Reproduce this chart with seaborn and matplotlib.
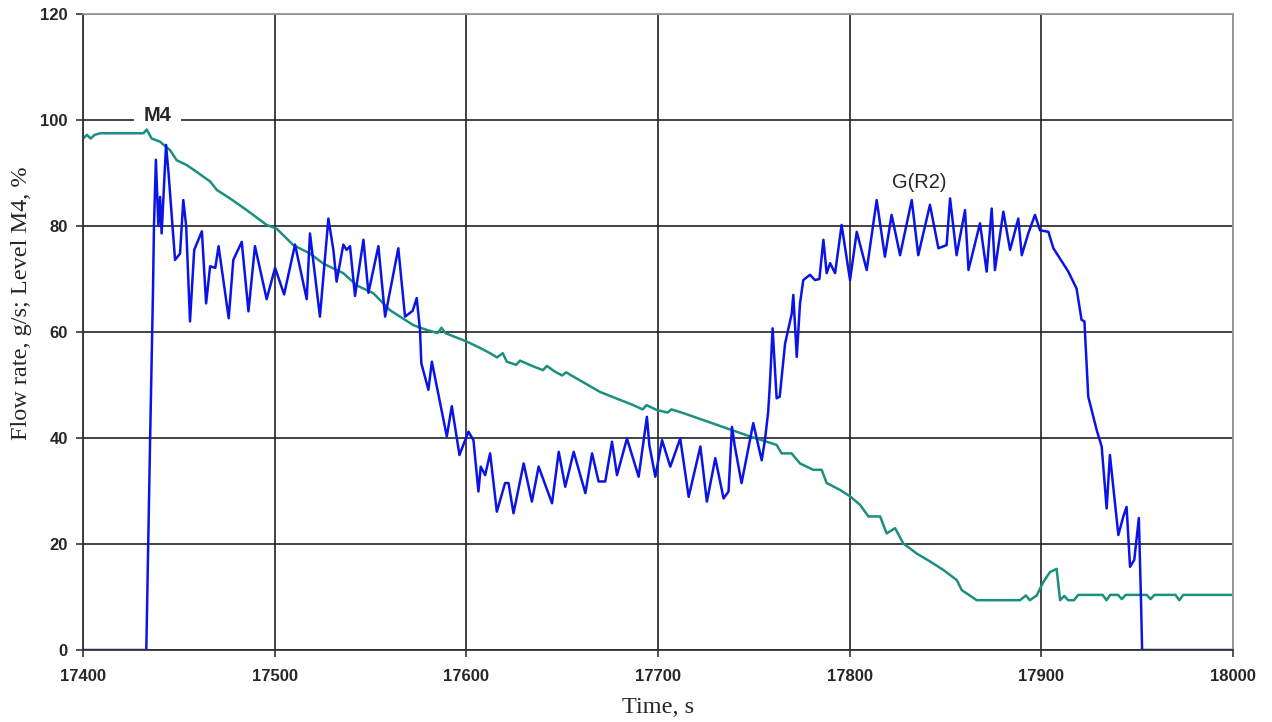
import numpy as np
import pandas as pd
import matplotlib
matplotlib.use("Agg")
import matplotlib.pyplot as plt
import seaborn as sns

# Flow rate G(R2), g/s
flow_t = [17400, 17433, 17435, 17436.5, 17437, 17438, 17439.3, 17440.2, 17441, 17443.3,
          17444.6, 17448, 17450.6, 17452.3, 17453.8, 17455.8, 17458, 17462, 17464.2, 17466.3,
          17469, 17470.7, 17476, 17478.4, 17482.8, 17486.3, 17489.7, 17495.8, 17500.2, 17504.9,
          17510.6, 17516.7, 17518.4, 17523.6, 17528, 17530.6, 17532.3, 17535.8, 17537.5, 17539.3,
          17541.9, 17546.3, 17548.9, 17554.1, 17557.6, 17564.5, 17568, 17572, 17574.1, 17575.8,
          17576.5, 17580.2, 17582, 17584.6, 17589.8, 17592.4, 17596.4, 17601.1, 17603.7, 17606.3,
          17607.5, 17609.8, 17612.4, 17615.9, 17620.2, 17622, 17624.6, 17629.9, 17634.2, 17637.7,
          17644.7, 17648.2, 17651.6, 17656, 17662.1, 17665.6, 17669, 17672.5, 17676, 17678.6,
          17683.8, 17689.9, 17694.2, 17695.5, 17698.6, 17702.1, 17706.4, 17711.6, 17716, 17722.1,
          17725.5, 17729.9, 17734.2, 17736.8, 17738.6, 17740, 17743.6, 17749.7, 17754.1, 17755.8,
          17757.5, 17758.4, 17759.8, 17761.9, 17763.5, 17766.3, 17769.8, 17770.6, 17772.4, 17774.1,
          17775.8, 17779.3, 17781.9, 17784.2, 17786.3, 17788, 17789.8, 17792.4, 17795.8, 17800.2,
          17803.7, 17808.9, 17814.1, 17818.4, 17821.9, 17826.3, 17832.4, 17835.8, 17841.9, 17846.3,
          17850.6, 17852.4, 17855.8, 17860.2, 17862, 17868, 17871.5, 17874.1, 17875.8, 17880.2,
          17883.7, 17888, 17889.8, 17893.2, 17896.7, 17899.3, 17903.7, 17906.3, 17910.7, 17914.1,
          17918.4, 17921, 17922.5, 17924.5, 17928.9, 17931.5, 17934.1, 17935.8, 17940.2, 17942.8,
          17944.5, 17946.3, 17948.5, 17950.9, 17952.1, 17952.6, 18000]
flow_v = [0, 0, 40, 68, 80, 92.5, 80, 85.5, 78.6, 95.3,
          90, 73.6, 74.8, 84.9, 80, 62, 75.5, 79, 65.4, 72.4,
          72.1, 76.2, 62.6, 73.6, 77, 63.9, 76.2, 66.2, 72.1, 67.1,
          76.5, 66.2, 78.6, 62.9, 81.4, 75.5, 69.5, 76.5, 75.5, 76.2,
          66.8, 77.4, 67.4, 76.2, 62.9, 75.8, 62.9, 64, 66.4, 60.4,
          54.1, 49.1, 54.4, 49.7, 40.3, 46, 36.8, 41.2, 39.6, 29.9,
          34.6, 33, 37.1, 26.1, 31.5, 31.5, 25.8, 35.2, 28, 34.6,
          27.7, 37.4, 30.8, 37.4, 29.6, 37.1, 31.8, 31.8, 39.3, 33,
          39.9, 32.7, 44, 38.6, 32.7, 39.6, 34.6, 39.9, 28.9, 38.4,
          28, 36.2, 28.6, 29.9, 42.1, 38.6, 31.5, 42.8, 35.8, 39.6,
          45, 50.3, 60.7, 47.5, 47.8, 57.8, 63.5, 67, 55.3, 65.4,
          69.8, 70.8, 69.8, 70, 77.4, 71.1, 73, 71.1, 80.2, 69.8,
          78.9, 71.7, 84.9, 74.2, 82.1, 74.5, 84.9, 74.5, 84, 75.8,
          76.4, 85.2, 74.5, 83, 71.7, 80.5, 71.4, 83.3, 71.7, 82.7,
          75.5, 81.4, 74.5, 78.6, 82.1, 79.2, 78.9, 75.8, 73.3, 71.4,
          68.2, 62.3, 62, 47.8, 41.5, 38.4, 26.7, 36.8, 21.7, 25.2,
          27, 15.7, 17, 24.9, 8.2, 0, 0]

# Level in vessel M4, %
level_t = [17400, 17402, 17404, 17406, 17409, 17431.5, 17433.2, 17435.8, 17440.2, 17445.4,
           17448.9, 17454.1, 17459.3, 17466.3, 17469.8, 17476.7, 17485.4, 17495.8, 17501, 17509.7,
           17518.4, 17525.4, 17535.8, 17542.8, 17551.5, 17560.2, 17572.3, 17579.3, 17585, 17587,
           17589, 17600.2, 17606, 17612.4, 17616, 17619, 17621.1, 17626, 17628, 17635,
           17640, 17642, 17646.3, 17650, 17652, 17655.8, 17669.7, 17687.1, 17692, 17694,
           17699.3, 17705, 17707, 17713.2, 17730.6, 17748, 17756.7, 17761.9, 17764.5, 17769.7,
           17774.1, 17781, 17785.4, 17788, 17795, 17800.2, 17805.4, 17809.8, 17815.9, 17819.3,
           17823.7, 17828, 17835, 17842, 17848.9, 17855.9, 17858.5, 17866.3, 17888.9, 17892,
           17894, 17897.6, 17901, 17904.5, 17908, 17909.8, 17912, 17914, 17917, 17919.3,
           17932, 17934, 17936, 17940, 17942, 17944, 17955, 17957, 17959, 17970,
           17972, 17974, 18000]
level_v = [96.5, 97.2, 96.5, 97.2, 97.5, 97.5, 98.2, 96.5, 95.9, 94.3,
           92.4, 91.5, 90.2, 88.4, 86.8, 85.2, 83, 80.2, 79.5, 76.4,
           74.8, 72.9, 71.1, 68.8, 67.3, 64.1, 61.3, 60.4, 59.8, 60.8,
           59.8, 58.2, 57.2, 56, 55.2, 56, 54.4, 53.8, 54.6, 53.5,
           52.8, 53.6, 52.5, 51.8, 52.4, 51.6, 48.7, 46.2, 45.4, 46.2,
           45.3, 44.8, 45.4, 44.7, 42.5, 40.3, 39.3, 38.7, 37.1, 37.1,
           35.2, 34, 34, 31.5, 30.2, 29, 27.4, 25.2, 25.2, 22,
           23, 20.1, 18.2, 16.7, 15.1, 13.2, 11.3, 9.4, 9.4, 10.3,
           9.4, 10.3, 12.8, 14.7, 15.3, 9.4, 10.2, 9.4, 9.4, 10.4,
           10.4, 9.4, 10.4, 10.4, 9.6, 10.4, 10.4, 9.6, 10.4, 10.4,
           9.4, 10.4, 10.4]

x_ticks = [17400, 17500, 17600, 17700, 17800, 17900, 18000]
y_ticks = [0, 20, 40, 60, 80, 100, 120]

flow = pd.DataFrame({"t": flow_t, "v": flow_v})
level = pd.DataFrame({"t": level_t, "v": level_v})

sns.set_style("white")
plt.rcParams["font.family"] = ["Liberation Sans", "DejaVu Sans"]

fig = plt.figure(figsize=(12.72, 7.22), dpi=100)
ax = fig.add_axes([0.0653, 0.0997, 0.904, 0.8809])

sns.lineplot(data=level, x="t", y="v", ax=ax, color="#1b8f80", linewidth=1.8,
             estimator=None, sort=False)
sns.lineplot(data=flow, x="t", y="v", ax=ax, color="#0a14e6", linewidth=1.8,
             estimator=None, sort=False)

ax.set_xlim(17400, 18000)
ax.set_ylim(0, 120)
ax.set_xticks(x_ticks)
ax.set_yticks(y_ticks)
ax.set_xticklabels([str(v) for v in x_ticks], fontsize=12, fontweight="bold")
ax.set_yticklabels([str(v) for v in y_ticks], fontsize=12, fontweight="bold")
ax.tick_params(axis="both", direction="out", length=5, width=1.2, color="#333333",
               bottom=True, left=True)
ax.tick_params(axis="x", pad=9)
ax.tick_params(axis="y", pad=6)

ax.grid(True, color="#222222", linewidth=1.2)
ax.set_axisbelow(True)
for side in ("left", "bottom"):
    ax.spines[side].set_color("#333333")
    ax.spines[side].set_linewidth(1.3)
for side in ("top", "right"):
    ax.spines[side].set_color("#999999")
    ax.spines[side].set_linewidth(1.3)

ax.set_xlabel("Time, s", fontsize=17.5, family=["Liberation Serif", "DejaVu Serif"])
ax.set_ylabel("Flow rate, g/s; Level M4, %", fontsize=17.5,
              family=["Liberation Serif", "DejaVu Serif"])
ax.xaxis.set_label_coords(0.5, -0.074)
ax.yaxis.set_label_coords(-0.044, 0.546)

# series labels; the white box masks the grid line but stays under the curves
ax.text(17439, 100.8, "M4", fontsize=14.5, fontweight="bold", ha="center", va="center",
        zorder=1.5, bbox=dict(facecolor="white", edgecolor="none", pad=7))
ax.text(17836.5, 86.5, "G(R2)", fontsize=14.5, ha="center", va="bottom")

fig.savefig("out.png", dpi=100)
